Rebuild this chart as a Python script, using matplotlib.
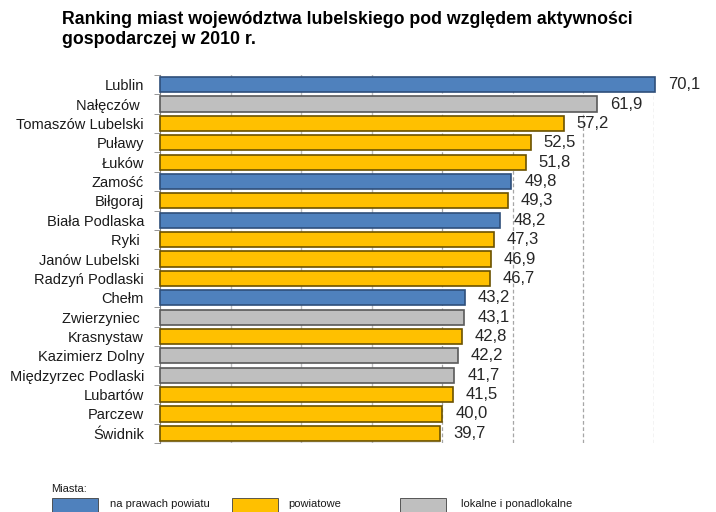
import matplotlib
matplotlib.use("Agg")
from matplotlib import pyplot as plt
from matplotlib.patches import Rectangle

# ranking data, top to bottom
cities = ["Lublin", "Nałęczów ", "Tomaszów Lubelski", "Puławy", "Łuków", "Zamość",
          "Biłgoraj", "Biała Podlaska", "Ryki ", "Janów Lubelski ", "Radzyń Podlaski",
          "Chełm", "Zwierzyniec ", "Krasnystaw", "Kazimierz Dolny",
          "Międzyrzec Podlaski", "Lubartów", "Parczew", "Świdnik"]
scores = [70.1, 61.9, 57.2, 52.5, 51.8, 49.8, 49.3, 48.2, 47.3, 46.9, 46.7,
          43.2, 43.1, 42.8, 42.2, 41.7, 41.5, 40.0, 39.7]
# city type: 0 = na prawach powiatu, 1 = powiatowe, 2 = lokalne i ponadlokalne
types = [0, 2, 1, 1, 1, 0, 1, 0, 1, 1, 1, 0, 2, 1, 2, 2, 1, 1, 1]
type_names = ["na prawach powiatu", "powiatowe", "lokalne i ponadlokalne"]

fills = ["#4F81BD", "#FFC000", "#BFBFBF"]
edges = ["#2F4F7A", "#6B5200", "#5A5A5A"]

plt.rcParams["font.family"] = ["Liberation Sans", "DejaVu Sans"]

fig = plt.figure(figsize=(7.16, 5.12), dpi=100)
ax = fig.add_axes([160 / 716, 1 - 443 / 512, (654 - 160) / 716, (443 - 75) / 512])

n = len(cities)
ypos = list(range(n))
ax.barh(ypos, scores, height=0.78,
        color=[fills[t] for t in types],
        edgecolor=[edges[t] for t in types],
        linewidth=1.2, zorder=3, clip_on=False)

for y, v in zip(ypos, scores):
    ax.annotate(f"{v:.1f}".replace(".", ","), (v, y), xytext=(13, 0),
                textcoords="offset pixels", annotation_clip=False,
                ha="left", va="center", fontsize=12, color="#262626")

ax.set_xlim(0, 70)
ax.set_ylim(n - 0.5, -0.5)

# vertical grid: solid near the axis, dashed further out
for g in range(10, 71, 10):
    if g <= 30:
        ax.axvline(g, color="#BFBFBF", lw=1.0, zorder=1)
    else:
        ax.axvline(g, color="#A6A6A6", lw=0.9, ls=(0, (3, 2)), zorder=1)

for s in ["top", "right", "bottom"]:
    ax.spines[s].set_visible(False)
ax.spines["left"].set_color("#868686")
ax.axhline(n - 0.5, xmin=0, xmax=39.5 / 70, color="#868686", lw=1.0, zorder=2)

ax.set_xticks([])
ax.set_yticks(ypos)
ax.set_yticklabels(cities, fontsize=10.5, color="#1a1a1a")
ax.tick_params(axis="y", which="major", length=0, pad=11.5)
ax.set_yticks([i - 0.5 for i in range(n + 1)], minor=True)
ax.tick_params(axis="y", which="minor", length=4, color="#868686", direction="out")

fig.text(62 / 716, 1 - 11 / 512,
         "Ranking miast województwa lubelskiego pod względem aktywności\ngospodarczej w 2010 r.",
         ha="left", va="top", fontsize=12.8, fontweight="bold", linespacing=1.22, color="#000000")

# legend
fig.text(51 / 716, 1 - 489 / 512, "Miasta:", ha="left", va="center", fontsize=8, color="#1a1a1a")
box_x = [52, 232, 400]
text_x = [110, 288, 461]
for t in range(3):
    fig.patches.append(Rectangle((box_x[t] / 716, 0), 46 / 716, 14 / 512,
                                 transform=fig.transFigure, facecolor=fills[t],
                                 edgecolor="#404040", linewidth=0.6))
    fig.text(text_x[t] / 716, 8 / 512, type_names[t], ha="left", va="center",
             fontsize=8, color="#1a1a1a")

fig.savefig("out.png", dpi=100)
